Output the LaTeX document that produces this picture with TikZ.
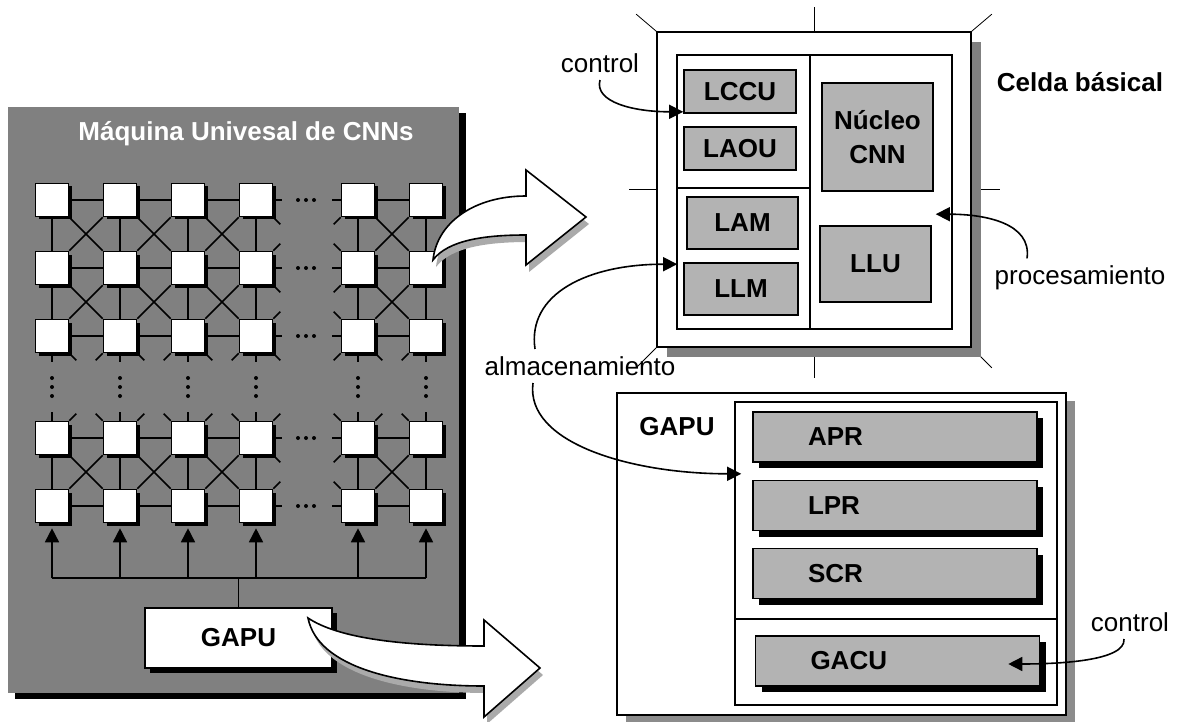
\documentclass[tikz,border=0pt]{standalone}
\usepackage{fontspec}
\setmainfont{Liberation Sans}
\usetikzlibrary{arrows.meta,calc,shadows,backgrounds}
\definecolor{grisfondo}{RGB}{128,128,128}
\definecolor{grisclaro}{RGB}{179,179,179}
\definecolor{grissombra}{RGB}{140,140,140}
\definecolor{grisflecha}{RGB}{170,170,170}
\newcommand{\letra}{\fontsize{13}{15.6}\selectfont}

\begin{document}
\begin{tikzpicture}[x=0.5pt, y=-0.5pt, line width=0.8pt,
  celda/.style={draw, fill=white, minimum size=16.5pt, inner sep=0pt,
    drop shadow={shadow xshift=1.5pt, shadow yshift=-1.5pt, fill=black, opacity=1}},
  bloque/.style={draw, fill=grisclaro, inner sep=0pt, align=center,
    font=\fontsize{13}{17}\selectfont\bfseries},
  reg/.style={bloque, minimum height=25pt, text width=87pt, inner xsep=27.5pt,
    align=left, drop shadow={shadow xshift=3pt, shadow yshift=-3pt, fill=black, opacity=1}},
  marco/.style={draw, fill=white, inner sep=0pt},
  nota/.style={font=\letra},
  flecha/.style={-{Triangle[length=7pt, width=7pt]}}]
  \useasboundingbox (0,0) rectangle (1179,722);
  % Maquina universal
  \fill (15,113) rectangle (466,699);
  \fill[grisfondo] (8,107) rectangle (459,693);
  \node[white, font=\letra\bfseries] (titulo) at (246,134) {Máquina Univesal de CNNs};
  % Celdas
  \foreach \c/\x in {1/52, 2/120, 3/188, 4/256, 5/358, 6/426}
    \foreach \r/\y in {1/200, 2/268, 3/336, 4/438, 5/506}
      \node[celda] (c\r\c) at (\x,\y) {};
  % Enlaces horizontales y verticales
  \foreach \r in {1,...,5} {
    \foreach \a/\b in {1/2, 2/3, 3/4, 5/6}
      \draw (c\r\a) -- (c\r\b);
    \draw (c\r4.east) -- ++(9,0);
    \draw (c\r5.west) -- ++(-9,0);
  }
  \foreach \c in {1,...,6} {
    \foreach \a/\b in {1/2, 2/3, 4/5}
      \draw (c\a\c) -- (c\b\c);
    \draw (c3\c.south) -- ++(0,9);
    \draw (c4\c.north) -- ++(0,-9);
  }
  % Diagonales
  \foreach \a/\b in {1/2, 2/3, 4/5}
    \foreach \p/\q in {1/2, 2/3, 3/4, 5/6} {
      \draw (c\a\p.south east) -- (c\b\q.north west);
      \draw (c\a\q.south west) -- (c\b\p.north east);
    }
  % Cortes
  \foreach \r in {1,2,3,4} {
    \draw (c\r4.south east) -- ++(7,7);
    \draw (c\r5.south west) -- ++(-7,7);
  }
  \foreach \r in {2,3,4,5} {
    \draw (c\r4.north east) -- ++(7,-7);
    \draw (c\r5.north west) -- ++(-7,-7);
  }
  \foreach \c in {1,2,3,5} {
    \draw (c3\c.south east) -- ++(7,7);
    \draw (c4\c.north east) -- ++(7,-7);
  }
  \foreach \c in {2,3,4,6} {
    \draw (c3\c.south west) -- ++(-7,7);
    \draw (c4\c.north west) -- ++(-7,-7);
  }
  % Puntos suspensivos
  \foreach \y in {200, 268, 336, 438, 506}
    \foreach \x in {298, 306, 314}
      \fill (\x,\y) circle (1pt);
  \foreach \x in {52, 120, 188, 256, 358, 426}
    \foreach \y in {378, 387, 396}
      \fill (\x,\y) circle (1pt);
  % Bus y GAPU
  \node[marco, minimum width=93.5pt, minimum height=30pt, font=\letra\bfseries,
    drop shadow={shadow xshift=2.5pt, shadow yshift=-2.5pt, fill=black, opacity=1}]
    (gapu) at (238.5,638) {GAPU};
  \coordinate (bus) at (239,578);
  \draw (gapu.north) -- (gapu.north |- bus);
  \draw (c51.south |- bus) -- (c56.south |- bus);
  \foreach \c in {1,...,6}
    \draw[flecha] (c5\c.south |- bus) -- ([yshift=-2.5pt]c5\c.south);
  % Flechas gruesas
  \fill[grisflecha, shift={(3,7)}]
    (433,260) .. controls (437,222) and (475,196) .. (526,196) -- (526,170)
    -- (586,217) -- (526,265) -- (526,235) .. controls (485,235) and (448,240) .. cycle;
  \filldraw[fill=white]
    (433,260) .. controls (437,222) and (475,196) .. (526,196) -- (526,170)
    -- (586,217) -- (526,265) -- (526,235) .. controls (485,235) and (448,240) .. cycle;
  \fill[grisflecha, shift={(3,7)}]
    (308,618) .. controls (338,638) and (400,646) .. (484,646) -- (484,620)
    -- (540,668) -- (484,717) -- (484,686) .. controls (400,686) and (318,668) .. cycle;
  \filldraw[fill=white]
    (308,618) .. controls (338,638) and (400,646) .. (484,646) -- (484,620)
    -- (540,668) -- (484,717) -- (484,686) .. controls (400,686) and (318,668) .. cycle;
  % Celda basica
  \node[marco, minimum width=157pt, minimum height=157.5pt,
    drop shadow={shadow xshift=5pt, shadow yshift=-5pt, fill=grisfondo, opacity=1}]
    (celda) at (814,189.5) {};
  \begin{scope}[on background layer]
    \draw (celda.north) -- ++(0,-24);
    \draw (celda.south) -- ++(0,30);
    \draw (celda.west) -- ++(-27,0);
    \draw (celda.east) -- ++(28,0);
    \draw (celda.north west) -- ++(-20,-17);
    \draw (celda.north east) -- ++(20,-17);
    \draw (celda.south west) -- ++(-19,19);
    \draw (celda.south east) -- ++(20,20);
  \end{scope}
  \draw (677,55) rectangle (952,329);
  \draw (810,55) -- (810,329);
  \draw (677,188) -- (810,188);
  \node[bloque, minimum width=56pt, minimum height=21.5pt] (lccu) at (740,91.5) {LCCU};
  \node[bloque, minimum width=56pt, minimum height=21.5pt] (laou) at (740,148.5) {LAOU};
  \node[bloque, minimum width=55.5pt, minimum height=26pt] (lam) at (742.5,223) {LAM};
  \node[bloque, minimum width=57pt, minimum height=26pt] (llm) at (741,289) {LLM};
  \node[bloque, minimum width=55.5pt, minimum height=54pt] (nucleo) at (877.5,137) {Núcleo\\CNN};
  \node[bloque, minimum width=55.5pt, minimum height=38pt] (llu) at (875.5,264) {LLU};
  \node[font=\letra\bfseries] (titcelda) at (1080,82) {Celda básical};
  % GAPU en detalle
  \node[marco, minimum width=224.5pt, minimum height=161pt,
    drop shadow={shadow xshift=4.5pt, shadow yshift=-4pt, fill=grissombra, opacity=1}]
    (gapudet) at (841.5,554) {};
  \draw (735,402) rectangle (1057,705);
  \draw (735,619) -- (1057,619);
  \node[font=\letra\bfseries] (titgapu) at (677,427) {GAPU};
  \node[reg] (apr) at (895,437) {APR};
  \node[reg] (lpr) at (895,505.5) {LPR};
  \node[reg] (scr) at (895,573.5) {SCR};
  \node[reg] (gacu) at (897.5,661) {GACU};
  % Anotaciones
  \node[nota] (ctrla) at (600,63) {control};
  \node[nota] (alm) at (580,366) {almacenamiento};
  \node[nota] (proc) at (1080,278) {procesamiento};
  \node[nota] (ctrlb) at (1130,622) {control};
  \draw[flecha] (ctrla.south) .. controls +(-6,22) and +(-50,0) .. ([yshift=1pt]lccu.south west);
  \draw[flecha] ([xshift=-22.5pt]alm.north) .. controls +(-8,-55) and +(-90,0) .. ([xshift=-3pt,yshift=-1pt]llm.north west);
  \draw[flecha] ([xshift=-23.5pt]alm.south) .. controls +(-8,60) and +(-110,0) .. ([xshift=-5.5pt,yshift=-5.5pt]apr.south west);
  \draw[flecha] ([xshift=-26.5pt]proc.north) .. controls +(5,-35) and +(50,0) .. ([xshift=2pt,yshift=5.5pt]llu.north east);
  \draw[flecha] ([xshift=-3pt]ctrlb.south) .. controls +(2,22) and +(50,0) .. ([xshift=-16pt,yshift=-1.5pt]gacu.east);
\end{tikzpicture}
\end{document}
